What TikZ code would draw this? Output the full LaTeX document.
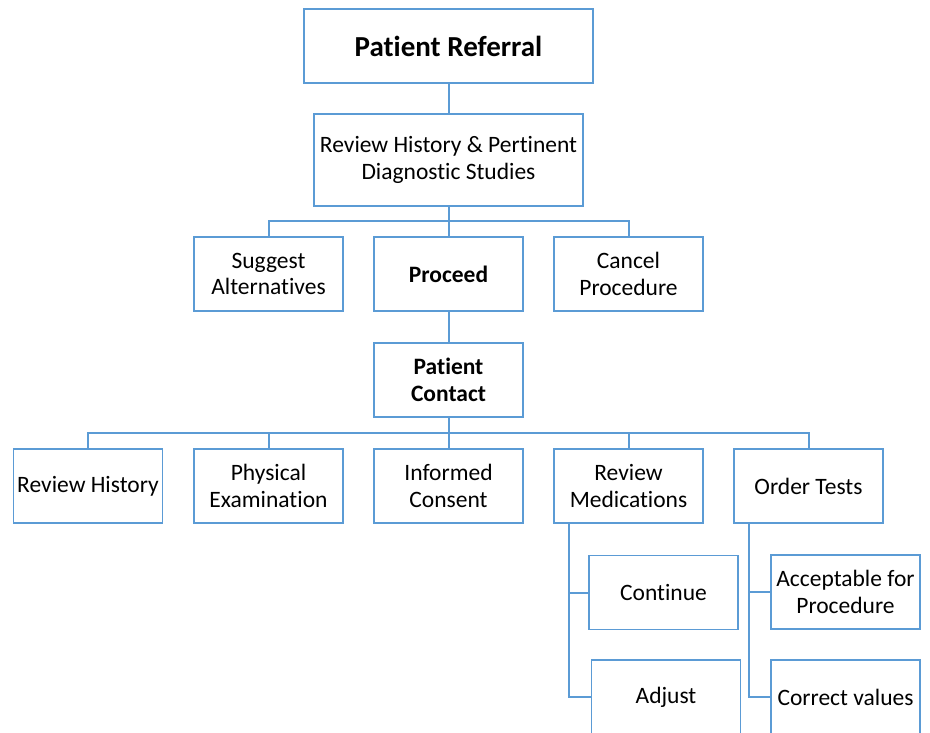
\documentclass[tikz,border=0pt]{standalone}
\usepackage{fontspec}
\setmainfont[Ligatures={NoCommon}]{Carlito}
\definecolor{boxblue}{HTML}{5B9BD5}
\begin{document}
\begin{tikzpicture}[x=1pt,y=-1pt,
  box/.style={draw=boxblue,line width=1.8pt,fill=white,minimum width=149pt,minimum height=74pt,inner sep=2pt,align=center,font=\fontsize{23.5}{26.5}\selectfont},
  conn/.style={draw=boxblue,line width=2pt}]
\useasboundingbox (0,0) rectangle (930,732);
\fill[white] (0,0) rectangle (930,732);
\clip (0,0) rectangle (930,732);
% nodes
\node[box,minimum width=289pt,font=\fontsize{29}{32}\selectfont\bfseries] (ref) at (448.5,46) {Patient Referral};
\node[box,minimum width=269pt,minimum height=92pt] (rev) at (448.5,160) {Review History \& Pertinent\\Diagnostic Studies};
\node[box] (sug) at (268.5,274) {Suggest\\Alternatives};
\node[box,font=\fontsize{23.5}{26.5}\selectfont\bfseries] (pro) at (448.5,274) {Proceed};
\node[box] (can) at (628.5,274) {Cancel\\Procedure};
\node[box,font=\fontsize{23.5}{26.5}\selectfont\bfseries] (pc) at (448.5,380) {Patient\\Contact};
\node[box] (rh) at (88,486) {Review History};
\node[box] (pe) at (268.5,486) {Physical\\Examination};
\node[box] (ic) at (448.5,486) {Informed\\Consent};
\node[box] (rm) at (628.5,486) {Review\\Medications};
\node[box] (ot) at (808.5,486) {Order Tests};
\node[box] (co) at (663.5,592.5) {Continue};
\node[box] (ad) at (666,697) {Adjust};
\node[box] (ac) at (845.5,592) {Acceptable for\\Procedure};
\node[box] (cv) at (845.5,697) {Correct values};
% connectors
\draw[conn] (ref.south) -- (rev.north);
\coordinate (b1) at (448.5,221);
\draw[conn] (rev.south) -- (b1);
\draw[conn] (sug.north) |- (b1) -| (can.north);
\draw[conn] (b1) -- (pro.north);
\draw[conn] (pro.south) -- (pc.north);
\coordinate (b2) at (448.5,433);
\draw[conn] (pc.south) -- (b2);
\draw[conn] (rh.north) |- (b2) -| (ot.north);
\draw[conn] (pe.north) |- (b2);
\draw[conn] (b2) -- (ic.north);
\draw[conn] (rm.north |- b2) -- (rm.north);
\coordinate (rmt) at (569,523);
\coordinate (ott) at (749,523);
\draw[conn] (rmt) |- (co.west);
\draw[conn] (rmt) |- (ad.west);
\draw[conn] (ott) |- (ac.west);
\draw[conn] (ott) |- (cv.west);
\end{tikzpicture}
\end{document}
